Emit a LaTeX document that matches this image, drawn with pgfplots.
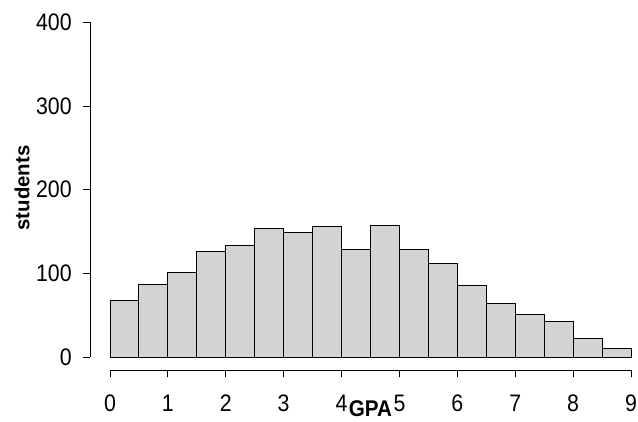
\documentclass[border=0pt]{standalone}
\usepackage{fontspec}
\setmainfont{Liberation Sans}
\usepackage{pgfplots}
\pgfplotsset{compat=1.18}
\usetikzlibrary{calc}
\definecolor{barfill}{HTML}{D3D3D3}

\begin{document}
\begin{tikzpicture}
  \begin{axis}[
      scale only axis,
      width=411pt, height=271.1pt,
      xmin=-0.3455, xmax=9.121,
      ymin=-16, ymax=416,
      axis x line*=bottom, axis y line*=left,
      axis line style={draw=none},
      tick align=outside,
      major tick length=5.25pt,
      tick style={black, line width=0.6pt},
      xtick={0,1,...,9}, ytick={0,100,...,400},
      /pgf/number format/assume math mode=true,
      tick label style={font=\fontsize{16}{18}\selectfont, yscale=1.12},
      xticklabel style={yshift=-8pt},
      yticklabel style={xshift=-5pt},
      clip=false,
    ]
    % histogram bars
    \addplot[ybar interval, fill=barfill, draw=black, line width=0.7pt]
      coordinates {(0,68) (0.5,87) (1,101) (1.5,126) (2,133) (2.5,154)
                   (3,149) (3.5,156) (4,129) (4.5,157) (5,128) (5.5,112)
                   (6,85) (6.5,64) (7,51) (7.5,43) (8,22) (8.5,10) (9,10)};
    % axis lines as R draws them
    \draw[line width=0.6pt] (axis cs:0,-16) -- (axis cs:9,-16);
    \draw[line width=0.6pt] (axis cs:-0.3455,0) -- (axis cs:-0.3455,400);
    \node[font=\fontsize{15.5}{18}\selectfont\bfseries, yscale=1.1, inner sep=0pt] at (axis cs:4.5,-62) {GPA};
    \node[font=\fontsize{15.3}{18}\selectfont\bfseries, rotate=90] at (axis cs:-1.52,202) {students};
    \coordinate (O) at (rel axis cs:0,0);
  \end{axis}
  \pgfresetboundingbox
  \path[use as bounding box] ($(O)+(-67.5pt,-37.95pt)$) rectangle ++(478.5pt,315.75pt);
\end{tikzpicture}
\end{document}
